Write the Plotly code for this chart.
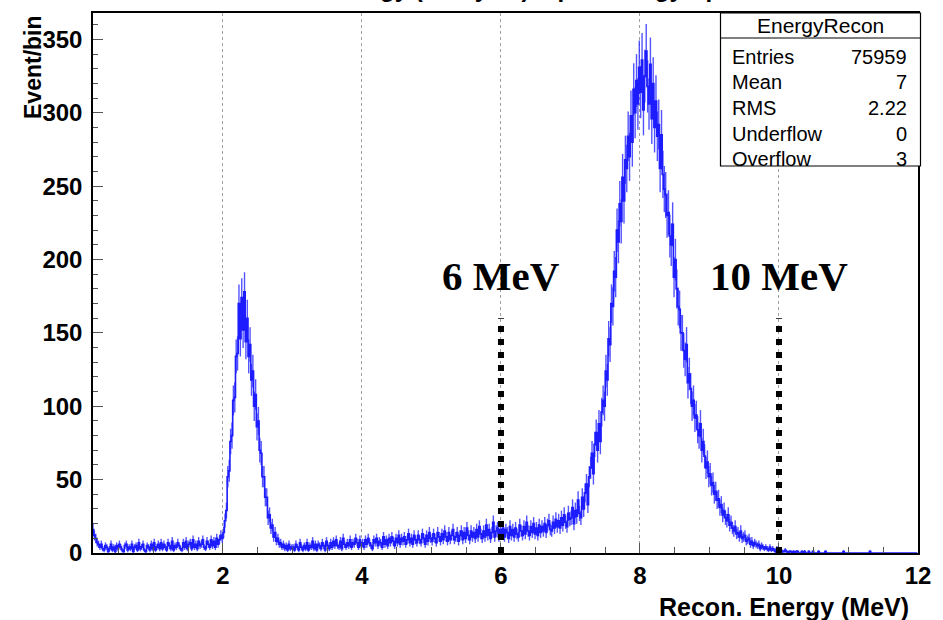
import numpy as np
import plotly.graph_objects as go

# Histogram binning (MeV)
BIN_WIDTH = 0.02
E_START = 0.12

# Counts per bin, grouped by energy range
counts_012_200 = [
    16, 12, 10, 7, 6, 4, 6, 3, 2, 5,
    4, 1, 3, 6, 2, 4, 1, 5, 3, 6,
    4, 2, 1, 5, 6, 2, 4, 3, 6, 1,
    4, 5, 2, 7, 3, 4, 6, 2, 1, 5,
    4, 2, 6, 3, 7, 2, 4, 6, 3, 7,
    3, 6, 4, 2, 7, 5, 3, 8, 2, 5,
    4, 7, 5, 3, 2, 7, 4, 8, 3, 6,
    7, 3, 9, 4, 6, 3, 8, 5, 6, 9,
    4, 3, 8, 6, 4, 9, 5, 8, 4, 10,
    6, 9, 12, 10,
]
counts_200_300 = [
    14, 22, 29, 52, 56, 76, 80, 104, 106, 134,
    136, 170, 146, 174, 152, 178, 144, 160, 134, 142,
    118, 124, 100, 108, 86, 90, 70, 68, 52, 52,
    38, 38, 24, 26, 17, 19, 11, 14, 8, 10,
    6, 7, 4, 6, 3, 5, 2, 6, 3, 4,
]
counts_300_600 = [
    4, 2, 6, 4, 2, 7, 4, 2, 5, 3,
    7, 2, 5, 4, 8, 3, 6, 2, 6, 5,
    3, 7, 5, 2, 8, 5, 3, 7, 4, 8,
    5, 9, 5, 4, 8, 3, 10, 6, 4, 7,
    5, 9, 4, 7, 6, 10, 7, 4, 9, 5,
    7, 4, 9, 6, 10, 7, 5, 3, 9, 7,
    10, 5, 8, 7, 4, 11, 6, 9, 5, 10,
    7, 11, 8, 5, 10, 7, 12, 6, 10, 8,
    11, 6, 9, 13, 7, 10, 6, 12, 9, 7,
    12, 9, 7, 13, 10, 6, 12, 8, 14, 10,
    8, 13, 10, 7, 14, 11, 8, 13, 9, 15,
    11, 8, 14, 9, 12, 16, 9, 11, 14, 8,
    12, 15, 9, 14, 10, 17, 12, 9, 15, 11,
    14, 10, 16, 11, 18, 13, 10, 15, 11, 19,
    12, 16, 10, 14, 21, 11, 15, 17, 11, 16,
]
counts_600_700 = [
    13, 17, 11, 16, 14, 10, 18, 12, 16, 11,
    17, 13, 11, 19, 15, 12, 18, 13, 21, 15,
    12, 18, 14, 20, 13, 17, 12, 19, 14, 18,
    15, 20, 14, 19, 22, 16, 15, 21, 17, 23,
    18, 22, 17, 24, 19, 26, 21, 18, 27, 23,
]
counts_700_900 = [
    24, 31, 20, 29, 25, 36, 27, 24, 38, 30,
    41, 47, 33, 52, 58, 68, 54, 74, 82, 70,
    88, 76, 96, 104, 100, 124, 118, 146, 142, 170,
    168, 192, 188, 220, 212, 238, 226, 256, 240, 268,
    262, 284, 270, 298, 280, 316, 300, 322, 306, 331,
    314, 336, 302, 325, 342, 318, 306, 333, 296, 320,
    290, 308, 284, 292, 262, 285, 258, 248, 244, 230,
    232, 216, 210, 224, 188, 200, 180, 168, 166, 150,
    150, 138, 132, 142, 116, 122, 112, 100, 104, 92,
    94, 84, 80, 88, 70, 76, 66, 58, 62, 52,
]
counts_900_1200 = [
    54, 46, 48, 40, 42, 36, 37, 31, 33, 26,
    29, 24, 22, 26, 19, 21, 17, 15, 18, 13,
    14, 11, 15, 10, 11, 12, 8, 9, 10, 6,
    8, 5, 7, 6, 5, 6, 3, 5, 4, 3,
    4, 3, 2, 4, 2, 3, 2, 1, 3, 2,
    1, 2, 1, 1, 2, 1, 0, 1, 1, 0,
    1, 0, 1, 1, 0, 0, 1, 0, 1, 0,
    0, 1, 0, 0, 1, 0, 0, 0, 1, 0,
    0, 0, 0, 1, 0, 0, 0, 0, 0, 0,
    0, 0, 0, 0, 0, 0, 1, 0, 0, 0,
    0, 0, 0, 0, 0, 0, 0, 0, 0, 0,
    0, 0, 0, 0, 0, 1, 0, 0, 0, 0,
    0, 0, 0, 0, 0, 0, 0, 0, 0, 0,
    0, 0, 0, 0, 0, 0, 0, 0, 0, 0,
    0, 0, 0, 0, 0, 0, 0, 0, 0, 0,
]

# Energy cuts marked on the spectrum (MeV) and their label height (events/bin)
cut_energies = [6, 10]
cut_line_top = 160
cut_label_y = 189

# Statistics box contents
stats_title = "EnergyRecon"
stats_names = ["Entries", "Mean", "RMS", "Underflow", "Overflow"]
stats_values = ["75959", "7", "2.22", "0", "3"]

x_tickvals = [2, 4, 6, 8, 10, 12]

counts = np.array(counts_012_200 + counts_200_300 + counts_300_600
                  + counts_600_700 + counts_700_900 + counts_900_1200, dtype=float)
centers = E_START + BIN_WIDTH * (np.arange(len(counts)) + 0.5)
errors = np.sqrt(counts)

BLUE = "#1c1cff"
SANS = "Liberation Sans"
SERIF = "Liberation Serif"

# Page geometry (pixels)
W, H = 943, 620
L, R, T, B = 93, 25, 13, 67
PW, PH = W - L - R, H - T - B


def px(x):
    return (x - L) / PW


def py(y):
    return (H - B - y) / PH


fig = go.Figure()
fig.add_trace(go.Scatter(
    x=centers, y=counts, mode="lines",
    line=dict(color=BLUE, width=1.6, shape="hvh"),
    error_y=dict(type="data", array=errors, visible=True,
                 color="rgba(40,40,255,0.8)", thickness=1.4, width=0),
    hoverinfo="skip", showlegend=False,
))

shapes = []
annotations = []

# Dotted cut markers with their labels
for e in cut_energies:
    shapes.append(dict(type="line", xref="x", yref="y", x0=e, x1=e, y0=0,
                       y1=cut_line_top, line=dict(color="black", width=6, dash="6px,7px"),
                       layer="above"))
    annotations.append(dict(xref="x", yref="y", x=e, y=cut_label_y,
                            text=f"{e:g} MeV", showarrow=False,
                            xanchor="center", yanchor="middle",
                            font=dict(family=SERIF, size=41, color="black", weight="bold")))

# Statistics box
box_l, box_r, box_t, box_b, head_b = 720.5, 920.5, 13, 166, 38
shapes.append(dict(type="rect", xref="paper", yref="paper",
                   x0=px(box_l), x1=px(box_r), y0=py(box_b), y1=py(box_t),
                   fillcolor="white", line=dict(color="black", width=1.2), layer="above"))
shapes.append(dict(type="line", xref="paper", yref="paper",
                   x0=px(box_l), x1=px(box_r), y0=py(head_b), y1=py(head_b),
                   line=dict(color="black", width=1.2), layer="above"))
annotations.append(dict(xref="paper", yref="paper", x=px((box_l + box_r) / 2), y=py(26),
                        text=stats_title, showarrow=False, xanchor="center", yanchor="middle",
                        font=dict(family=SANS, size=21, color="black")))
row_y = [57, 82, 108, 134, 159]
for name, val, yy in zip(stats_names, stats_values, row_y):
    annotations.append(dict(xref="paper", yref="paper", x=px(730), y=py(yy), text=name,
                            showarrow=False, xanchor="left", yanchor="middle",
                            font=dict(family=SANS, size=20, color="black")))
    annotations.append(dict(xref="paper", yref="paper", x=px(909), y=py(yy), text=val,
                            showarrow=False, xanchor="right", yanchor="middle",
                            font=dict(family=SANS, size=20, color="black")))

# Axis titles
annotations.append(dict(xref="paper", yref="paper", x=px(911), y=py(607),
                        text="Recon. Energy (MeV)", showarrow=False,
                        xanchor="right", yanchor="middle",
                        font=dict(family=SANS, size=25, color="black", weight="bold")))
annotations.append(dict(xref="paper", yref="paper", x=px(33), y=1.0,
                        text="Event/bin", showarrow=False, textangle=-90,
                        xanchor="center", yanchor="top",
                        font=dict(family=SANS, size=23, color="black", weight="bold")))
# Histogram title (runs off the top of the canvas)
annotations.append(dict(xref="paper", yref="paper", x=px(520), y=py(4),
                        text="Recon. Energy (Analysis) Input Energy Spectrum", showarrow=False,
                        xanchor="center", yanchor="bottom",
                        font=dict(family=SANS, size=24, color="black", weight="bold")))

tickfont = dict(family=SANS, size=24, color="black", weight="bold")
fig.update_layout(
    width=W, height=H,
    margin=dict(l=L, r=R, t=T, b=B),
    paper_bgcolor="white", plot_bgcolor="white",
    shapes=shapes, annotations=annotations,
    xaxis=dict(range=[0.13, 12.0], tickvals=x_tickvals, ticks="inside", ticklen=10,
               tickwidth=1, tickcolor="#555", tickfont=tickfont, ticklabelstandoff=0,
               showgrid=True, gridcolor="#a0a0a0", griddash="dot", gridwidth=1,
               showline=True, linecolor="black", linewidth=1.5, mirror=True, zeroline=False,
               minor=dict(dtick=0.5, tick0=0, ticks="inside", ticklen=6,
                          tickcolor="#555", showgrid=False)),
    yaxis=dict(range=[0, 368], dtick=50, tick0=0, ticks="inside", ticklen=10,
               tickwidth=1, tickcolor="#555", tickfont=tickfont, ticklabelstandoff=4,
               showgrid=False, showline=True, linecolor="black", linewidth=1.5,
               mirror=True, zeroline=False,
               minor=dict(dtick=10, tick0=0, ticks="inside", ticklen=5,
                          tickcolor="#555", showgrid=False)),
)

fig.write_html("out.html")
